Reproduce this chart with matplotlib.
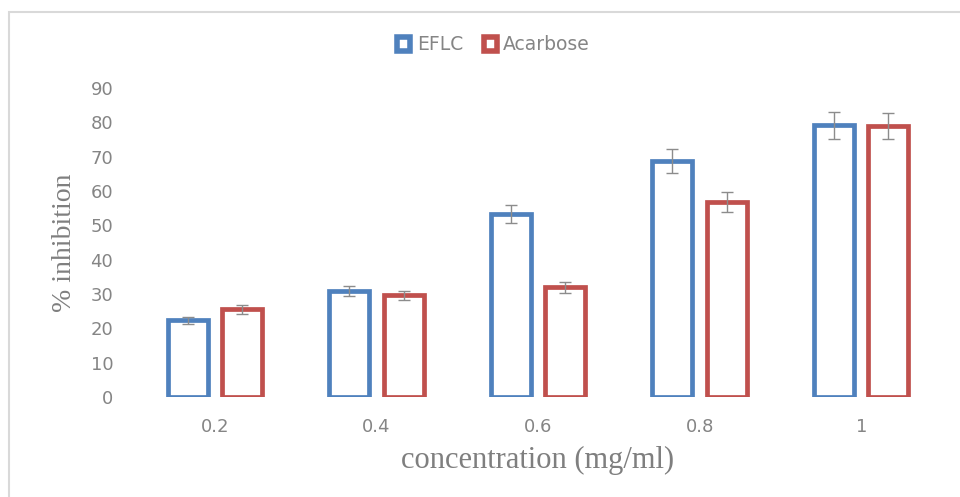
import numpy as np
import matplotlib
matplotlib.use("Agg")
import matplotlib.pyplot as plt
from matplotlib.patches import Rectangle, Patch

# data
conc = ["0.2", "0.4", "0.6", "0.8", "1"]
eflc = [22.3, 30.9, 53.3, 68.8, 79.1]
eflc_err = [1.1, 1.55, 2.7, 3.5, 3.9]
acarbose = [25.5, 29.6, 31.9, 56.8, 79.0]
acarbose_err = [1.25, 1.4, 1.6, 2.9, 3.8]

blue = "#4F81BD"
red = "#C0504D"
grey = "#7f7f7f"

fig = plt.figure(figsize=(9.6, 4.97), dpi=100)
# light chart-area frame
fig.patches.append(Rectangle((9/960, -0.1), 1.2, 1 - 12/497 + 0.1, transform=fig.transFigure,
                             fill=False, edgecolor="#d9d9d9", linewidth=1.5))

ax = fig.add_axes([134/960, 100/497, 808/960, 309/497])
x = np.arange(len(conc))
w = 0.248
off = 0.168

ax.bar(x - off, eflc, w, facecolor="white", edgecolor=blue, linewidth=3.4, label="EFLC")
ax.bar(x + off, acarbose, w, facecolor="white", edgecolor=red, linewidth=3.4, label="Acarbose")
ax.errorbar(x - off, eflc, yerr=eflc_err, fmt="none", ecolor="#8c8c8c", elinewidth=1, capsize=4.5, capthick=1)
ax.errorbar(x + off, acarbose, yerr=acarbose_err, fmt="none", ecolor="#8c8c8c", elinewidth=1, capsize=4.5, capthick=1)

ax.set_xlim(-0.5, len(conc) - 0.5)
ax.set_ylim(0, 90)
ax.set_yticks(range(0, 91, 10))
ax.set_xticks(x)
ax.set_xticklabels(conc)
for s in ax.spines.values():
    s.set_visible(False)
ax.tick_params(length=0, colors="#858585", labelsize=13)
ax.tick_params(axis="y", pad=15)
ax.tick_params(axis="x", pad=15)

ax.set_xlabel("concentration (mg/ml)", fontfamily="Liberation Serif", fontsize=22, color=grey, labelpad=7)
ax.set_ylabel("% inhibition", fontfamily="Liberation Serif", fontsize=20, color=grey, labelpad=10)

handles = [Patch(facecolor="white", edgecolor=blue, linewidth=4, label="EFLC"),
           Patch(facecolor="white", edgecolor=red, linewidth=4, label="Acarbose")]
leg = fig.legend(handles=handles, loc="center", bbox_to_anchor=(0.514, 1 - 45/497), ncol=2, frameon=False,
                 handlelength=0.7, handleheight=0.7, handletextpad=0.35, columnspacing=1.1,
                 prop={"size": 13.5})
for t in leg.get_texts():
    t.set_color("#858585")

fig.savefig("out.png", dpi=100)
